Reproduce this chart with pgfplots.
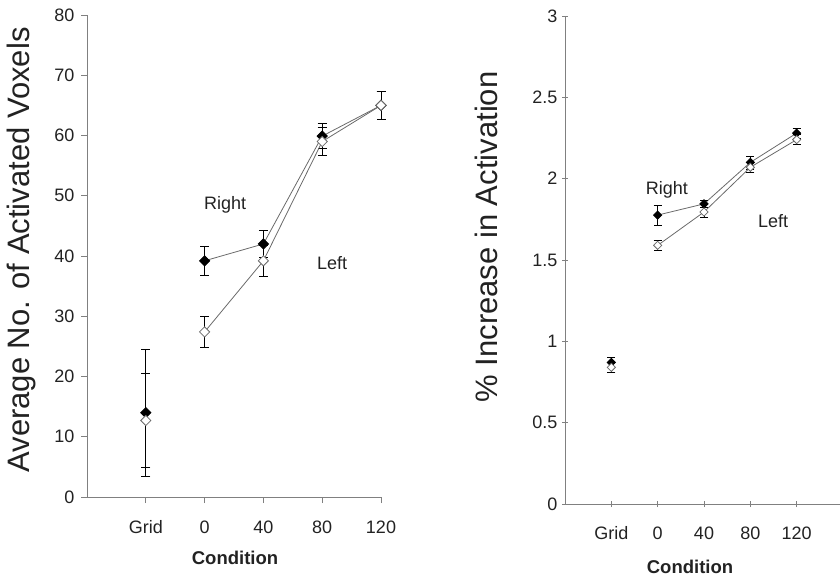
\documentclass[border=0pt]{standalone}
\usepackage{pgfplots}
\pgfplotsset{compat=1.18}
\usepackage{fontspec}
\setmainfont{Liberation Sans}

\definecolor{axisgray}{HTML}{808080}
\definecolor{linegray}{HTML}{6A6A6A}
\definecolor{txt}{HTML}{222222}

\pgfplotsset{
  panel/.style={
    scale only axis, axis lines*=left, clip=false,
    axis line style={axisgray, line width=0.9pt},
    every tick/.style={axisgray, line width=0.9pt},
    major tick length=6pt,
    tick label style={font=\fontsize{18}{21}\selectfont, text=txt},
    /pgf/number format/assume math mode=true,
  },
  % #1 = width of the error bar caps
  filled/.style={linegray, line width=0.8pt,
    mark=square*, mark options={rotate=45, fill=black, draw=black, solid},
    error bars/.cd, y dir=both, y explicit,
    error bar style={black, line width=0.7pt},
    error mark options={rotate=90, black, line width=0.7pt, mark size=#1},
    /pgfplots/.cd},
  open/.style={linegray, line width=0.8pt,
    mark=square*, mark options={rotate=45, fill=white, draw=linegray, solid},
    error bars/.cd, y dir=both, y explicit,
    error bar style={black, line width=0.7pt},
    error mark options={rotate=90, black, line width=0.7pt, mark size=#1},
    /pgfplots/.cd},
}

\begin{document}
\begin{tikzpicture}
\useasboundingbox (0pt,0pt) rectangle (840pt,581pt);

% left panel: voxel counts
\begin{axis}[panel, at={(87pt,84pt)}, anchor=south west,
    width=294pt, height=482pt,
    xmin=0, xmax=5, ymin=0, ymax=80,
    xtick={1,...,5}, xticklabels={Grid,0,40,80,120},
    ytick={0,10,...,80}, tick align=outside,
    xticklabel style={yshift=-14pt},
    yticklabel style={xshift=-3pt},
    mark size=3.6pt]
  \addplot[filled=4.5pt, only marks] coordinates {(1,14) +- (0,10.5)};
  \addplot[open=4.5pt, only marks] coordinates {(1,12.7) +- (0,7.8)};
  \addplot[filled=4.5pt] coordinates {(2,39.2) +- (0,2.35) (3,42) +- (0,2.3) (4,59.9) +- (0,2.1) (5,65) +- (0,2.4)};
  \addplot[open=4.5pt] coordinates {(2,27.4) +- (0,2.6) (3,39.2) +- (0,2.6) (4,59) +- (0,2.3) (5,65) +- (0,2.4)};
  \node[font=\fontsize{18}{21}\selectfont, text=txt] at (axis cs:2.35,48.5) {Right};
  \node[font=\fontsize{18}{21}\selectfont, text=txt] at (axis cs:4.17,38.8) {Left};
\end{axis}

% right panel: percent increase
\begin{axis}[panel, at={(565pt,77pt)}, anchor=south west,
    width=278pt, height=488pt,
    xmin=0, xmax=6, ymin=0, ymax=3,
    xtick={1,...,6}, xticklabels={Grid,0,40,80,120,},
    ytick={0,0.5,...,3}, tick align=center,
    xticklabel style={yshift=-16pt},
    yticklabel style={xshift=-1pt},
    mark size=2.9pt]
  \addplot[filled=4pt, only marks] coordinates {(1,0.87) +- (0,0.03)};
  \addplot[open=4pt, only marks] coordinates {(1,0.84) +- (0,0.03)};
  \addplot[filled=4pt] coordinates {(2,1.776) +- (0,0.06) (3,1.845) +- (0,0.02) (4,2.10) +- (0,0.04) (5,2.28) +- (0,0.03)};
  \addplot[open=4pt] coordinates {(2,1.59) +- (0,0.03) (3,1.795) +- (0,0.03) (4,2.07) +- (0,0.03) (5,2.24) +- (0,0.03)};
  \node[font=\fontsize{18}{21}\selectfont, text=txt] at (axis cs:2.2,1.93) {Right};
  \node[font=\fontsize{18}{21}\selectfont, text=txt] at (axis cs:4.49,1.74) {Left};
\end{axis}

% axis titles
\node[rotate=90, font=\fontsize{31}{36}\selectfont, text=txt] at (21pt,331pt) {Average No. of Activated Voxels};
\node[rotate=90, font=\fontsize{31}{36}\selectfont, text=txt] at (486pt,344pt) {\% Increase in Activation};
\node[font=\fontsize{18.5}{22}\selectfont\bfseries, text=txt] at (235pt,23pt) {Condition};
\node[font=\fontsize{18.5}{22}\selectfont\bfseries, text=txt] at (690pt,14pt) {Condition};
\end{tikzpicture}
\end{document}
